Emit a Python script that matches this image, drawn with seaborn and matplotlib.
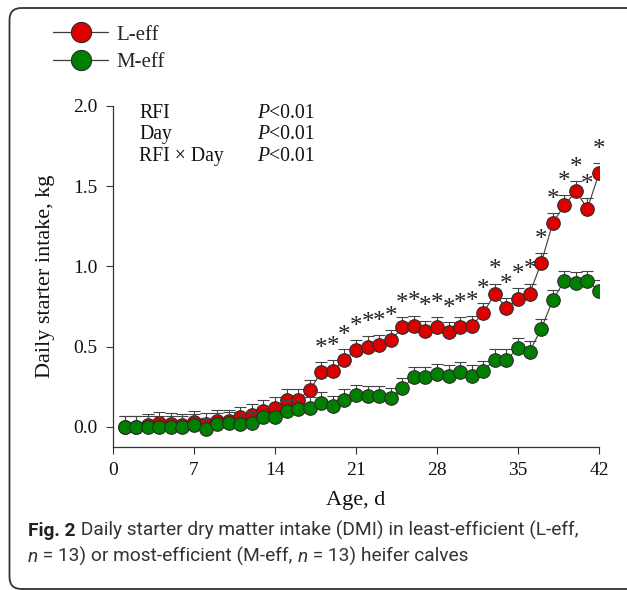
import numpy as np
import pandas as pd
import matplotlib
matplotlib.use("Agg")
import matplotlib.pyplot as plt
import seaborn as sns
from matplotlib.lines import Line2D
from matplotlib.patches import FancyBboxPatch
from matplotlib.transforms import IdentityTransform

# ---------------- data ----------------
days = [1, 2, 3, 4, 5, 6, 7, 8, 9, 10, 11, 12, 13, 14, 15, 16, 17, 18, 19, 20, 21,
        22, 23, 24, 25, 26, 27, 28, 29, 30, 31, 32, 33, 34, 35, 36, 37, 38, 39, 40, 41, 42]
leff = [0.00, 0.00, 0.01, 0.025, 0.02, 0.01, 0.03, 0.02, 0.035, 0.04, 0.06, 0.075, 0.10, 0.12,
        0.17, 0.17, 0.23, 0.34, 0.35, 0.42, 0.48, 0.50, 0.51, 0.54, 0.62, 0.63, 0.60, 0.62,
        0.59, 0.62, 0.63, 0.71, 0.83, 0.74, 0.80, 0.83, 1.02, 1.27, 1.38, 1.47, 1.36, 1.58]
meff = [0.00, 0.00, 0.00, 0.00, 0.00, 0.00, 0.015, -0.01, 0.02, 0.025, 0.02, 0.025, 0.06, 0.06,
        0.10, 0.11, 0.12, 0.15, 0.13, 0.17, 0.20, 0.19, 0.19, 0.18, 0.24, 0.31, 0.31, 0.33,
        0.32, 0.34, 0.32, 0.35, 0.42, 0.42, 0.49, 0.47, 0.61, 0.79, 0.91, 0.90, 0.91, 0.85]
leff_sem = [0.068, 0.068, 0.068, 0.068, 0.068, 0.068, 0.068, 0.068, 0.068, 0.068, 0.066, 0.066,
            0.066, 0.066, 0.066, 0.066, 0.065, 0.065, 0.065, 0.064, 0.064, 0.064, 0.064, 0.064,
            0.063, 0.063, 0.063, 0.063, 0.063, 0.063, 0.063, 0.063, 0.063, 0.063, 0.063, 0.063,
            0.063, 0.064, 0.064, 0.065, 0.065, 0.066]
meff_sem = [0.068, 0.068, 0.068, 0.068, 0.068, 0.068, 0.068, 0.068, 0.068, 0.066, 0.066, 0.066,
            0.066, 0.066, 0.065, 0.065, 0.065, 0.065, 0.065, 0.064, 0.064, 0.064, 0.064, 0.064,
            0.063, 0.063, 0.063, 0.063, 0.063, 0.063, 0.063, 0.063, 0.063, 0.063, 0.063, 0.063,
            0.063, 0.063, 0.063, 0.063, 0.063, 0.063]
sig_days = [18, 19, 20, 21, 22, 23, 24, 25, 26, 27, 28, 29, 30, 31, 32, 33, 34, 35, 36, 37,
            38, 39, 40, 41, 42]

groups = ["L-eff", "M-eff"]
colors = {"L-eff": "#dd0000", "M-eff": "#008000"}
xticks = [0, 7, 14, 21, 28, 35, 42]
yticks = [0.0, 0.5, 1.0, 1.5, 2.0]
stats_rows = [("RFI", "<0.01"), ("Day", "<0.01"), ("RFI \u00d7 Day", "<0.01")]

df = pd.concat([
    pd.DataFrame({"day": days, "dmi": leff, "sem": leff_sem, "group": "L-eff"}),
    pd.DataFrame({"day": days, "dmi": meff, "sem": meff_sem, "group": "M-eff"}),
], ignore_index=True)

# ---------------- figure ----------------
sns.set_style("ticks")
SERIF = "Liberation Serif"
plt.rcParams["font.family"] = [SERIF, "DejaVu Serif"]

W, H = 627, 590
fig = plt.figure(figsize=(W / 100, H / 100), dpi=100)
ax = fig.add_axes([113 / W, 1 - 447 / H, (599 - 113) / W, (447 - 106) / H])

edge = "#2a2a2a"
for i, g in enumerate(groups):
    d = df[df["group"] == g]
    z = 2 + i * 3
    sns.lineplot(data=d, x="day", y="dmi", color="#3a3a3a", lw=0.8, ax=ax,
                 zorder=z, legend=False, errorbar=None)
    ax.errorbar(d["day"], d["dmi"], yerr=[np.zeros(len(d)), d["sem"]], fmt="none",
                ecolor="#444444", elinewidth=0.8, capsize=4.3, capthick=0.8, zorder=z + 0.5)
    sns.scatterplot(data=d, x="day", y="dmi", color=colors[g], s=95, edgecolor=edge,
                    linewidth=0.8, ax=ax, zorder=z + 1, legend=False)

# significance asterisks
dfl = df[df["group"] == "L-eff"].set_index("day")
for dd in sig_days:
    yv = dfl.loc[dd, "dmi"]
    ax.annotate("*", xy=(dd, yv), xytext=(0, 12.5), textcoords="offset points",
                ha="center", va="baseline", fontsize=18, family=SERIF, color="#222222")

ax.set_xlim(0, 42)
ax.set_ylim(-0.125, 2.0)
ax.set_xticks(xticks)
ax.set_xticklabels([str(t) for t in xticks])
ax.set_yticks(yticks)
ax.set_yticklabels([f"{t:.1f}" for t in yticks])
ax.tick_params(direction="out", length=5, width=0.8, colors="#333333",
               labelsize=14, labelcolor="#111111", pad=6)
for s in ["top", "right"]:
    ax.spines[s].set_visible(False)
for s in ["left", "bottom"]:
    ax.spines[s].set_color("#333333")
    ax.spines[s].set_linewidth(0.9)
ax.set_xlabel("Age, d", fontsize=16, labelpad=8.5, color="#111111")
ax.set_ylabel("Daily starter intake, kg", fontsize=16, labelpad=13, color="#111111")
ax.set_facecolor("none")

# stats text
for k, (lab, pv) in enumerate(stats_rows):
    ypx = 113 + k * 21.5
    fig.text(139 / W, 1 - ypx / H, lab, fontsize=14.2, va="center", ha="left", color="#111111")
    t = fig.text(315 / W, 1 - ypx / H, pv, fontsize=14.2, va="center", ha="right",
                 color="#111111")
    ax.annotate("P", xy=(0, 0), xycoords=t, ha="right", va="bottom", fontsize=14.2,
                style="italic", color="#111111", annotation_clip=False)

# legend
handles = [Line2D([], [], color="#3a3a3a", lw=0.9, marker="o", markersize=14.5,
                  markerfacecolor=colors[g], markeredgecolor=edge, markeredgewidth=0.8)
           for g in groups]
fig.legend(handles, groups, loc="upper left", bbox_to_anchor=(49 / W, 1 - 21 / H),
           frameon=False, fontsize=15, handlelength=2.64, handletextpad=0.38,
           labelspacing=0.37, borderpad=0.2, borderaxespad=0)

# caption
SANS = "Roboto"
cap_fs = 13.8
t1 = fig.text(28 / W, 1 - 531 / H, "Fig. 2", fontsize=cap_fs, family=SANS, weight="bold",
              va="center", ha="left", color="#222222")
ax.annotate(" Daily starter dry matter intake (DMI) in least-efficient (L-eff,", xy=(1, 0),
            xycoords=t1, ha="left", va="bottom", fontsize=cap_fs, family=SANS,
            color="#333333", annotation_clip=False)
prev = fig.text(28 / W, 1 - 557 / H, "n", fontsize=cap_fs, family=SANS, style="italic",
                va="center", ha="left", color="#333333")
for txt, st in [(" = 13) or most-efficient (M-eff, ", "normal"), ("n", "italic"),
                (" = 13) heifer calves", "normal")]:
    prev = ax.annotate(txt, xy=(1, 0), xycoords=prev, ha="left", va="bottom",
                       fontsize=cap_fs, family=SANS, style=st, color="#333333",
                       annotation_clip=False)

# rounded frame
frame = FancyBboxPatch((9.5, 1.0), 630, 581.0, boxstyle="round,pad=0,rounding_size=12",
                       transform=IdentityTransform(), fill=False, edgecolor="#333333",
                       linewidth=1.3)
fig.patches.append(frame)

fig.savefig("out.png", dpi=100)
